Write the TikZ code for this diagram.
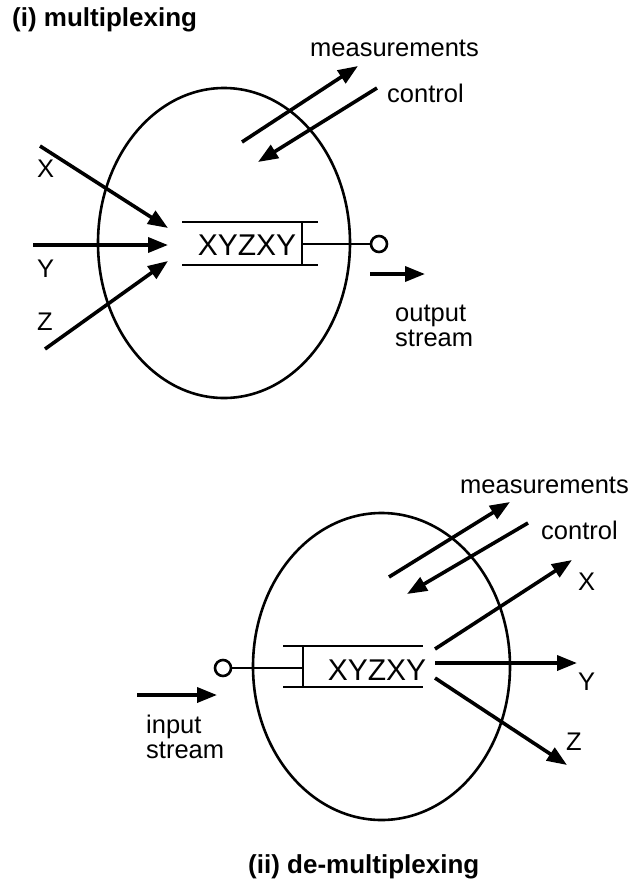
\documentclass[tikz,border=0pt]{standalone}
\usepackage{fontspec}
\setmainfont{Liberation Sans}
\usetikzlibrary{arrows.meta, shapes.geometric, positioning}

\begin{document}
\begin{tikzpicture}[x=1pt, y=-1pt,
  flow/.style={line width=3.6pt, -{Triangle[length=20pt, width=15pt]}},
  rim/.style={draw, ellipse, line width=2.6pt, inner sep=0pt},
  queue/.style={font=\fontsize{30}{30}\selectfont, inner sep=0pt},
  qline/.style={line width=2.6pt},
  port/.style={draw, circle, line width=2.6pt, minimum size=16pt, inner sep=0pt},
  lbl/.style={font=\fontsize{25.5}{25}\selectfont, inner sep=0pt, anchor=base west},
  title/.style={font=\bfseries\fontsize{26}{26}\selectfont, inner sep=0pt, anchor=base west}]
  \useasboundingbox (0,0) rectangle (635,887);

  % (i) multiplexing
  \node[title] (ttlmux) at (12,26) {(i) multiplexing};
  \node[rim, minimum width=252pt, minimum height=310pt] (mux) at (224,243) {};
  \draw[qline] (182,222) -- (318,222);
  \draw[qline] (182,265) -- (318,265);
  \draw[qline] (302,222) -- (302,265);
  \node[queue, anchor=base] (mq) at (247,255) {XYZXY};
  \coordinate (mqbar) at (302,244);
  \node[port] (mout) at (379,244) {};
  \draw[line width=2pt] (mqbar) -- (mout);
  \coordinate (moutA) at (370,274);
  \coordinate (moutB) at (425,274);
  \draw[flow] (moutA) -- (moutB);
  \node[lbl, anchor=north west, align=left] (moutlbl) at (395,305) {output\\stream};
  \foreach \nm/\sx/\sy/\ex/\ey/\ly in {X/40/146/168/228/177, Y/33/245/168/245/277, Z/45/349/168/261/330} {
    \coordinate (min\nm) at (\sx,\sy);
    \coordinate (mq\nm) at (\ex,\ey);
    \draw[flow] (min\nm) -- (mq\nm);
    \node[lbl] (mlbl\nm) at (37,\ly) {\nm};
  }
  \coordinate (mmeasA) at (242,142);
  \coordinate (mmeasB) at (358,66);
  \coordinate (mctrlA) at (377,88);
  \coordinate (mctrlB) at (258,162);
  \draw[flow] (mmeasA) -- (mmeasB);
  \draw[flow] (mctrlA) -- (mctrlB);
  \node[lbl] (mmeas) at (310,56) {measurements};
  \node[lbl] (mctrl) at (387,102) {control};

  % (ii) de-multiplexing
  \node[rim, minimum width=257pt, minimum height=307pt] (dmx) at (381.5,666.5) {};
  \draw[qline] (283,646) -- (423,646);
  \draw[qline] (283,687) -- (423,687);
  \draw[qline] (303,646) -- (303,687);
  \node[queue, anchor=base] (dq) at (377,680) {XYZXY};
  \coordinate (dqbar) at (303,668);
  \node[port] (din) at (223,668) {};
  \draw[line width=2pt] (din) -- (dqbar);
  \coordinate (dinA) at (137,695);
  \coordinate (dinB) at (217,695);
  \draw[flow] (dinA) -- (dinB);
  \node[lbl, anchor=north west, align=left] (dinlbl) at (146,715) {input\\stream};
  \foreach \nm/\sx/\sy/\ex/\ey/\lx/\ly in {X/435/649/572/560/578/590, Y/435/663/577/663/578/690, Z/435/678/567/765/566/750} {
    \coordinate (dq\nm) at (\sx,\sy);
    \coordinate (dout\nm) at (\ex,\ey);
    \draw[flow] (dq\nm) -- (dout\nm);
    \node[lbl] (dlbl\nm) at (\lx,\ly) {\nm};
  }
  \coordinate (dmeasA) at (389,577);
  \coordinate (dmeasB) at (510,502);
  \coordinate (dctrlA) at (528,523);
  \coordinate (dctrlB) at (407,594);
  \draw[flow] (dmeasA) -- (dmeasB);
  \draw[flow] (dctrlA) -- (dctrlB);
  \node[lbl] (dmeas) at (460,493) {measurements};
  \node[lbl] (dctrl) at (541,539) {control};
  \node[title] (ttldmx) at (248,873) {(ii) de-multiplexing};
\end{tikzpicture}
\end{document}
